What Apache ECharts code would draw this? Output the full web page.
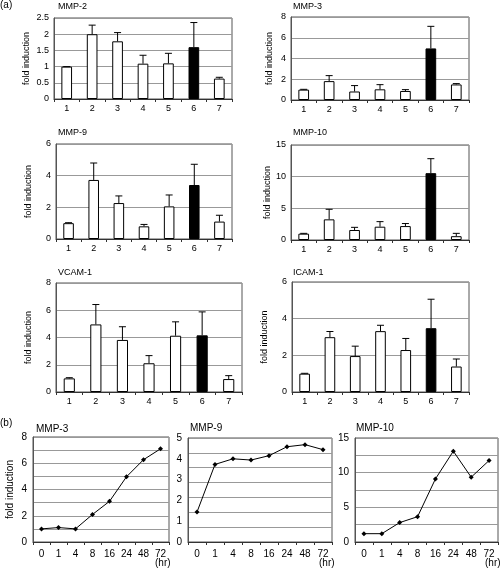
<!DOCTYPE html>
<html><head><meta charset="utf-8">
<script src="https://cdn.jsdelivr.net/npm/echarts@6/dist/echarts.min.js"></script>
<style>html,body{margin:0;padding:0;background:#fff}#c{width:500px;height:569px}</style>
</head><body><div id="c"></div>
<script>
// ---- data ----
const barCats = ['1', '2', '3', '4', '5', '6', '7'];
const mmp2 = [1.0, 2.0, 1.78, 1.09, 1.1, 1.6, 0.63];
const mmp2Up = [1.0, 2.28, 2.05, 1.35, 1.41, 2.36, 0.67];
const mmp3 = [1.0, 1.82, 0.82, 1.03, 0.87, 4.97, 1.5];
const mmp3Up = [1.03, 2.35, 1.39, 1.48, 1.0, 7.1, 1.58];
const mmp9 = [1.0, 3.73, 2.27, 0.8, 2.06, 3.41, 1.1];
const mmp9Up = [1.03, 4.8, 2.72, 0.92, 2.78, 4.72, 1.5];
const mmp10 = [1.0, 3.26, 1.58, 2.1, 2.2, 10.55, 0.6];
const mmp10Up = [1.05, 4.85, 2.0, 2.9, 2.6, 12.84, 1.05];
const vcam1 = [1.0, 4.96, 3.82, 2.11, 4.13, 4.16, 0.95];
const vcam1Up = [1.05, 6.42, 4.79, 2.67, 5.15, 5.88, 1.2];
const icam1 = [1.0, 2.99, 1.96, 3.32, 2.29, 3.48, 1.39];
const icam1Up = [1.02, 3.3, 2.5, 3.64, 2.92, 5.06, 1.8];
const highlightedCat = '6';

const hours = ['0', '1', '4', '8', '16', '24', '48', '72'];
const lineMmp3 = [1.0, 1.1, 1.0, 2.1, 3.1, 4.97, 6.27, 7.1];
const lineMmp9 = [1.44, 3.73, 4.0, 3.94, 4.15, 4.58, 4.68, 4.44];
const lineMmp10 = [1.2, 1.2, 2.8, 3.65, 9.1, 13.1, 9.35, 11.75];

// ---- layout ----
const FONT = 'Liberation Sans, Arial, sans-serif';
const barPanels = [
  {name: 'MMP-2', vals: mmp2, up: mmp2Up, max: 2.5, interval: 0.5, g: {left: 54, top: 18, width: 178, height: 81}, t: [58, 2], gap: 23},
  {name: 'MMP-3', vals: mmp3, up: mmp3Up, max: 8, interval: 2, g: {left: 291, top: 17, width: 178, height: 83}, t: [293, 2], gap: 17},
  {name: 'MMP-9', vals: mmp9, up: mmp9Up, max: 6, interval: 2, g: {left: 56, top: 144, width: 176, height: 95}, t: [58, 128], gap: 23},
  {name: 'MMP-10', vals: mmp10, up: mmp10Up, max: 15, interval: 5, g: {left: 291, top: 145, width: 178, height: 95}, t: [293, 128], gap: 18},
  {name: 'VCAM-1', vals: vcam1, up: vcam1Up, max: 8, interval: 2, g: {left: 56, top: 283, width: 186, height: 109}, t: [58, 268], gap: 23},
  {name: 'ICAM-1', vals: icam1, up: icam1Up, max: 6, interval: 2, g: {left: 292, top: 282, width: 177, height: 110}, t: [293, 268], gap: 23}
];
const linePanels = [
  {name: 'MMP-3', vals: lineMmp3, max: 8, interval: 2, minor: 2, g: {left: 33, top: 437, width: 136, height: 105}, t: [36, 424], hr: 155, yname: true},
  {name: 'MMP-9', vals: lineMmp9, max: 5, interval: 1, grid7: true, g: {left: 188, top: 438, width: 144, height: 104}, t: [190, 423], hr: 319},
  {name: 'MMP-10', vals: lineMmp10, max: 15, interval: 5, minor: 2, g: {left: 355, top: 438, width: 143, height: 104}, t: [356, 423], hr: 485}
];

const grids = [], xAxes = [], yAxes = [], series = [], titles = [];
const txt = (s) => ({fontFamily: FONT, fontSize: s, color: '#000', fontWeight: 'normal'});

titles.push({text: '(a)', left: 0, top: 0, padding: 0, textStyle: txt(10)});
titles.push({text: '(b)', left: 0, top: 418, padding: 0, textStyle: txt(10)});

barPanels.forEach((p, i) => {
  grids.push(Object.assign({show: true, borderColor: '#555', borderWidth: 1, backgroundColor: 'transparent'}, p.g));
  titles.push({text: p.name, left: p.t[0], top: p.t[1], padding: 0, textStyle: txt(9)});
  xAxes.push({
    type: 'category', gridIndex: i, data: barCats, boundaryGap: true,
    axisLine: {lineStyle: {color: '#333'}},
    axisTick: {show: true, inside: false, length: 3, lineStyle: {color: '#333'}},
    axisLabel: Object.assign({margin: 5}, txt(9))
  });
  yAxes.push({
    type: 'value', gridIndex: i, min: 0, max: p.max, interval: p.interval,
    name: 'fold induction', nameLocation: 'middle', nameGap: p.gap, nameRotate: 90,
    nameTextStyle: txt(9),
    axisLine: {show: true, lineStyle: {color: '#555'}},
    axisTick: {show: false},
    axisLabel: Object.assign({margin: 5}, txt(9)),
    splitLine: {show: true, lineStyle: {color: '#999', width: 1}}
  });
  series.push({
    type: 'bar', xAxisIndex: i, yAxisIndex: i, barWidth: '42%',
    data: p.vals.map((v, k) => ({value: v, itemStyle: {color: barCats[k] === highlightedCat ? '#000' : '#fff'}})),
    itemStyle: {borderColor: '#000', borderWidth: 1},
    silent: true, z: 2
  });
  series.push({
    type: 'custom', xAxisIndex: i, yAxisIndex: i, silent: true, z: 3,
    data: p.vals.map((v, k) => [k, v, p.up[k]]),
    renderItem: function (params, api) {
      const base = api.coord([api.value(0), api.value(1)]);
      const top = api.coord([api.value(0), api.value(2)]);
      const hw = 3.5;
      const st = {stroke: '#000', lineWidth: 1};
      return {type: 'group', children: [
        {type: 'line', shape: {x1: base[0], y1: base[1], x2: top[0], y2: top[1]}, style: st},
        {type: 'line', shape: {x1: top[0] - hw, y1: top[1], x2: top[0] + hw, y2: top[1]}, style: st}
      ]};
    }
  });
});

linePanels.forEach((p, j) => {
  const gi = grids.length;
  grids.push(Object.assign({show: true, borderColor: '#555', borderWidth: 1, backgroundColor: 'transparent'}, p.g));
  titles.push({text: p.name, left: p.t[0], top: p.t[1], padding: 0, textStyle: txt(10)});
  titles.push({text: '(hr)', left: p.hr, top: 558, padding: 0, textStyle: txt(10)});
  const xi = xAxes.length;
  xAxes.push({
    type: 'category', gridIndex: gi, data: hours, boundaryGap: true,
    axisLine: {lineStyle: {color: '#333'}},
    axisTick: {show: true, inside: false, length: 3, lineStyle: {color: '#333'}},
    axisLabel: Object.assign({margin: 7}, txt(10))
  });
  const yi = yAxes.length;
  const ya = {
    type: 'value', gridIndex: gi, min: 0, max: p.max, interval: p.interval,
    axisLine: {show: true, lineStyle: {color: '#555'}},
    axisTick: {show: false},
    axisLabel: Object.assign({margin: 6}, txt(10)),
    splitLine: {show: !p.grid7, lineStyle: {color: '#999', width: 1}}
  };
  if (p.minor) {
    ya.minorTick = {show: false, splitNumber: p.minor};
    ya.minorSplitLine = {show: true, lineStyle: {color: '#999', width: 1}};
  }
  if (p.yname) {
    ya.name = 'fold induction'; ya.nameLocation = 'middle'; ya.nameGap = 18; ya.nameRotate = 90;
    ya.nameTextStyle = txt(10);
  }
  yAxes.push(ya);
  if (p.grid7) {
    yAxes.push({
      type: 'value', gridIndex: gi, min: 0, max: 7, interval: 1, position: 'right',
      axisLine: {show: false}, axisTick: {show: false}, axisLabel: {show: false},
      splitLine: {show: true, lineStyle: {color: '#999', width: 1}}
    });
  }
  series.push({
    type: 'line', xAxisIndex: xi, yAxisIndex: yi, data: p.vals,
    symbol: 'diamond', symbolSize: 5, showSymbol: true,
    lineStyle: {color: '#000', width: 1}, itemStyle: {color: '#000'},
    silent: true, z: 3
  });
});

const chart = echarts.init(document.getElementById('c'), null, {renderer: 'canvas'});
chart.setOption({
  animation: false, backgroundColor: '#fff',
  title: titles, grid: grids, xAxis: xAxes, yAxis: yAxes, series: series
});
</script></body></html>
